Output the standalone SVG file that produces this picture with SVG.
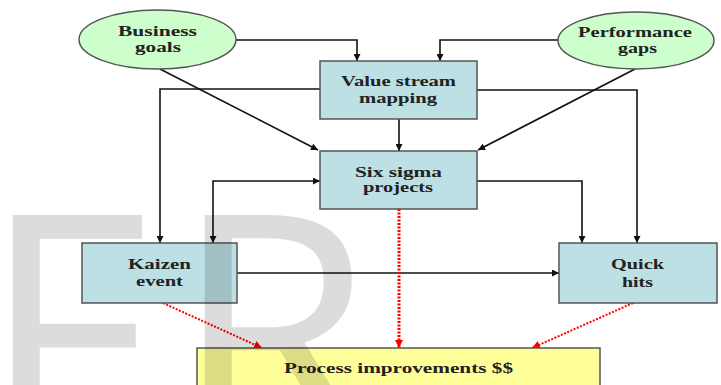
<svg xmlns="http://www.w3.org/2000/svg" width="721" height="385" viewBox="0 0 721 385">
<style>
.box{fill:#bce0e4;stroke:#555;stroke-width:1.5}
.ell{fill:#ccffcc;stroke:#555;stroke-width:1.5}
.out{fill:#ffff99;stroke:#555;stroke-width:1.5}
.t{font-family:"Liberation Serif","Times New Roman",serif;font-size:15px;font-weight:bold;fill:#222;text-anchor:middle}
.c{fill:none;stroke:#111;stroke-width:1.6}
.r{fill:none;stroke:#ff0000;stroke-width:2;stroke-dasharray:2 1.5}
.wm{font-family:"Open Sans","Liberation Sans",Arial,sans-serif;font-size:325px;fill:#000;opacity:0.135}
</style>
<defs>
<marker id="ah" viewBox="0 0 10 10" refX="10" refY="5" markerWidth="8" markerHeight="7" markerUnits="userSpaceOnUse" orient="auto-start-reverse"><path d="M0,0 L10,5 L0,10 z" fill="#111"/></marker>
<marker id="rh" viewBox="0 0 10 10" refX="10" refY="5" markerWidth="8" markerHeight="8" markerUnits="userSpaceOnUse" orient="auto"><path d="M0,0 L10,5 L0,10 z" fill="#ff0000"/></marker>
</defs>
<rect width="721" height="385" fill="#fff"/>
<g id="connectors">
<path class="c" d="M236,40 H357 V61" marker-end="url(#ah)"/>
<path class="c" d="M558,40 H440 V61" marker-end="url(#ah)"/>
<path class="c" d="M160,69 L318,150" marker-end="url(#ah)"/>
<path class="c" d="M635,69 L478,150" marker-end="url(#ah)"/>
<path class="c" d="M399,119 V151" marker-end="url(#ah)"/>
<path class="c" d="M320,89 H160 V243" marker-end="url(#ah)"/>
<path class="c" d="M477,90 H637 V243" marker-end="url(#ah)"/>
<path class="c" d="M477,181 H582 V243" marker-end="url(#ah)"/>
<path class="c" d="M213,243 V181 H320" marker-start="url(#ah)" marker-end="url(#ah)"/>
<path class="c" d="M237,273 H559" marker-end="url(#ah)"/>
<path class="r" d="M163,303 L262,348" marker-end="url(#rh)"/>
<path class="r" d="M399,209 V348" style="stroke-width:3" marker-end="url(#rh)"/>
<path class="r" d="M633,303 L532,348" marker-end="url(#rh)"/>
</g>
<g id="business-goals">
<ellipse class="ell" cx="157.5" cy="39.5" rx="78.5" ry="29.5"/>
<text class="t" x="157.5" y="36" textLength="79" lengthAdjust="spacingAndGlyphs">Business</text>
<text class="t" x="158" y="52" textLength="46" lengthAdjust="spacingAndGlyphs">goals</text>
</g>
<g id="performance-gaps">
<ellipse class="ell" cx="636" cy="40.5" rx="78" ry="28.5"/>
<text class="t" x="635" y="37" textLength="114" lengthAdjust="spacingAndGlyphs">Performance</text>
<text class="t" x="637.5" y="53" textLength="39" lengthAdjust="spacingAndGlyphs">gaps</text>
</g>
<g id="value-stream-mapping">
<rect class="box" x="320" y="61" width="157" height="58"/>
<text class="t" x="398.5" y="86" textLength="115" lengthAdjust="spacingAndGlyphs">Value stream</text>
<text class="t" x="398" y="103" textLength="78" lengthAdjust="spacingAndGlyphs">mapping</text>
</g>
<g id="six-sigma-projects">
<rect class="box" x="320" y="151" width="157" height="58"/>
<text class="t" x="398.5" y="177" textLength="87" lengthAdjust="spacingAndGlyphs">Six sigma</text>
<text class="t" x="398" y="192" textLength="70" lengthAdjust="spacingAndGlyphs">projects</text>
</g>
<g id="kaizen-event">
<rect class="box" x="82" y="243" width="155" height="60"/>
<text class="t" x="159.5" y="269" textLength="63" lengthAdjust="spacingAndGlyphs">Kaizen</text>
<text class="t" x="159.5" y="286" textLength="47" lengthAdjust="spacingAndGlyphs">event</text>
</g>
<g id="quick-hits">
<rect class="box" x="559" y="243" width="158" height="60"/>
<text class="t" x="637.5" y="269" textLength="53" lengthAdjust="spacingAndGlyphs">Quick</text>
<text class="t" x="637.5" y="287" textLength="31" lengthAdjust="spacingAndGlyphs">hits</text>
</g>
<g id="process-improvements">
<rect class="out" x="197" y="348" width="403" height="50"/>
<text class="t" x="398.5" y="373" textLength="229" lengthAdjust="spacingAndGlyphs">Process improvements $$</text>
</g>
<text class="wm" y="447"><tspan x="-19">F</tspan><tspan x="173">R</tspan></text>
</svg>
